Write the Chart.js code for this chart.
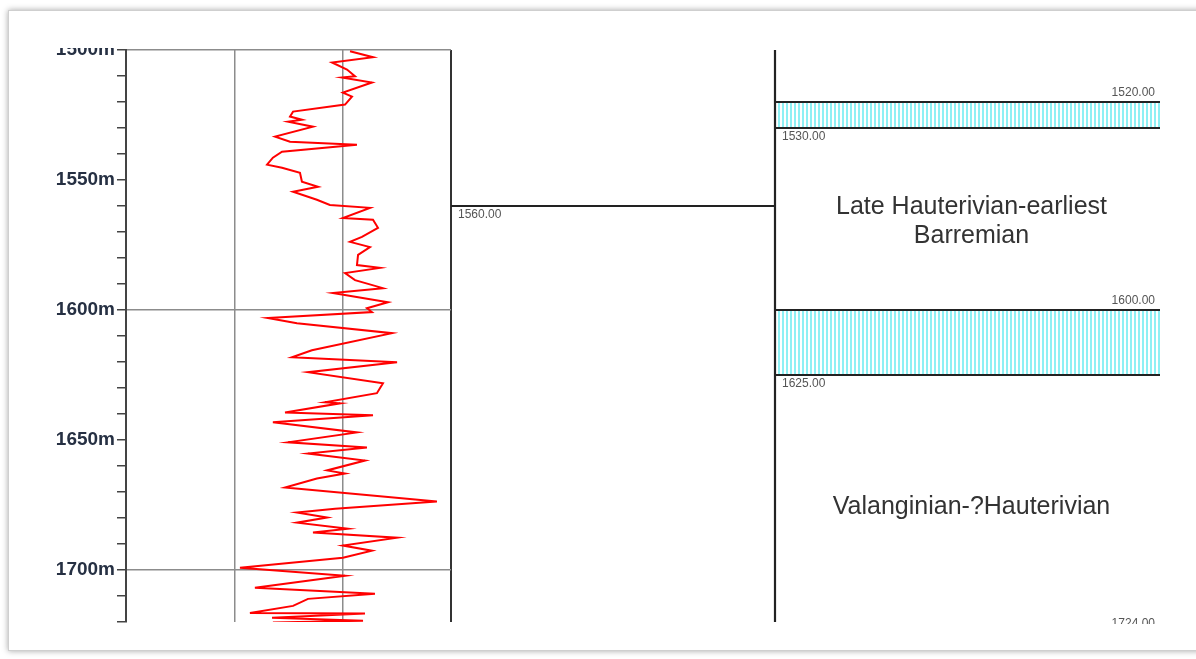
<!DOCTYPE html>
<html>
<head>
<meta charset="utf-8">
<script src="https://cdn.jsdelivr.net/npm/chart.js"></script>
<style>
  body { margin: 0; width: 1196px; height: 659px; overflow: hidden; background: #fff; font-family: "Liberation Sans", Arial, sans-serif; }
  #frame { position: absolute; left: 8px; top: 10px; width: 1200px; height: 639px; border: 1px solid #cfcfcf; box-shadow: 0 0 6px rgba(0,0,0,0.35); background: #fff; }
  #clip { position: absolute; left: 0; top: 48px; width: 1196px; height: 576px; overflow: hidden; }
  canvas { position: absolute; top: -48px; }
</style>
</head>
<body>
<div id="frame"></div>
<div id="clip">
  <canvas id="logChart" width="459" height="640" style="left:0px"></canvas>
  <canvas id="midChart" width="324" height="640" style="left:451px"></canvas>
  <canvas id="zoneChart" width="400" height="640" style="left:770px"></canvas>
</div>
<script>
// depth range and ticks
const depthMin = 1500;
const depthMax = 1720;
const depthStep = 10;
const depthLabelEvery = 50;

// log curve (depth m, value)
const logDepth = [1500.5, 1502.8, 1504.8, 1507.5, 1510.1, 1510.6, 1512.5, 1516.4, 1517.9, 1521.0,
  1523.7, 1525.6, 1526.8, 1527.6, 1529.5, 1533.3, 1535.3, 1536.4, 1539.1, 1541.4,
  1544.1, 1545.3, 1547.2, 1550.7, 1552.6, 1554.5, 1557.6, 1559.6, 1560.7, 1564.6,
  1565.3, 1568.4, 1571.9, 1573.8, 1575.8, 1578.8, 1582.7, 1583.8, 1585.8, 1588.5,
  1591.6, 1593.5, 1597.0, 1599.3, 1600.8, 1603.1, 1605.1, 1608.9, 1615.5, 1618.2,
  1620.1, 1623.9, 1628.2, 1632.0, 1635.5, 1635.9, 1639.4, 1640.5, 1643.2, 1647.1,
  1650.9, 1652.9, 1655.2, 1657.9, 1661.7, 1662.9, 1664.8, 1668.3, 1673.7, 1676.4,
  1677.9, 1679.8, 1681.8, 1684.1, 1685.6, 1687.6, 1690.6, 1692.6, 1695.3, 1699.1,
  1702.2, 1706.8, 1709.1, 1711.1, 1713.8, 1716.5, 1716.7, 1718.4, 1719.5, 1720.2];
const logValue = [103.4, 114.0, 95.1, 102.0, 105.7, 99.7, 113.5, 100.1, 104.3, 101.1,
  77.1, 75.7, 81.2, 74.8, 86.3, 68.8, 75.7, 106.6, 72.0, 67.8,
  65.1, 72.0, 80.3, 81.2, 88.6, 77.1, 88.1, 94.1, 112.6, 100.1,
  114.0, 116.3, 108.9, 103.4, 112.6, 107.1, 106.6, 117.2, 101.1, 105.7,
  118.6, 95.5, 120.9, 111.2, 113.5, 65.5, 78.9, 122.8, 85.8, 76.6,
  125.1, 84.0, 118.6, 115.8, 91.8, 98.8, 73.4, 114.0, 67.8, 106.6,
  74.8, 111.2, 84.0, 110.3, 92.8, 101.1, 88.1, 73.4, 143.5, 96.5,
  78.9, 92.8, 78.9, 102.5, 86.3, 125.1, 100.1, 113.5, 100.1, 52.6,
  101.1, 59.5, 114.9, 84.0, 77.1, 57.2, 110.3, 67.4, 109.4, 67.8];
const logMin = 0;
const logMax = 150;
const logGridStep = 50;

// middle track marker
const markerDepths = [1560];

// zone track
const boundaryDepths = [1520, 1530, 1600, 1625, 1724];
const hatchedZones = [[1520, 1530], [1600, 1625]];
const zoneNames = [["Late Hauterivian-earliest", "Barremian"], ["Valanginian-?Hauterivian"]];
const zoneRanges = [[1530, 1600], [1625, 1724]];

const labelFont = '12px "Liberation Sans", Arial, sans-serif';
const labelColor = '#555';

function depthAxis(display) {
  return { type: 'linear', reverse: true, min: depthMin, max: depthMax, display: display };
}

function baseOptions(padding) {
  return {
    responsive: false,
    animation: false,
    layout: { padding: padding },
    plugins: { legend: { display: false }, tooltip: { enabled: false } },
    events: []
  };
}

// text at depth boundaries, drawn from the y scale
const depthLabels = {
  id: 'depthLabels',
  afterDatasetsDraw(chart, args, opts) {
    const ctx = chart.ctx, area = chart.chartArea, y = chart.scales.y;
    ctx.save();
    ctx.font = labelFont;
    ctx.fillStyle = labelColor;
    (opts.items || []).forEach(it => {
      const py = y.getPixelForValue(it.depth);
      const txt = it.depth.toFixed(2);
      if (it.side === 'right') {
        ctx.textAlign = 'right'; ctx.textBaseline = 'bottom';
        ctx.fillText(txt, area.right - 5, py - 3);
      } else {
        ctx.textAlign = 'left'; ctx.textBaseline = 'top';
        ctx.fillText(txt, area.left + 7, py + 3);
      }
    });
    ctx.restore();
  }
};

const zoneText = {
  id: 'zoneText',
  afterDatasetsDraw(chart) {
    const ctx = chart.ctx, area = chart.chartArea, y = chart.scales.y;
    ctx.save();
    ctx.font = '25px "Liberation Sans", Arial, sans-serif';
    ctx.fillStyle = '#333';
    ctx.textAlign = 'center';
    ctx.textBaseline = 'middle';
    const cx = (area.left + area.right) / 2 + 4;
    zoneNames.forEach((lines, i) => {
      const mid = y.getPixelForValue((zoneRanges[i][0] + zoneRanges[i][1]) / 2);
      const lh = 29;
      lines.forEach((t, j) => {
        ctx.fillText(t, cx, mid + 3 + (j - (lines.length - 1) / 2) * lh);
      });
    });
    ctx.restore();
  }
};

// --- log track ---
new Chart(document.getElementById('logChart'), {
  type: 'scatter',
  data: {
    datasets: [{
      data: logDepth.map((d, i) => ({ x: logValue[i], y: d })),
      showLine: true,
      borderColor: '#ff0000',
      borderWidth: 2,
      pointRadius: 0,
      tension: 0
    }]
  },
  options: Object.assign(baseOptions({ top: 50, bottom: 18, left: 0, right: 8 }), {
    scales: {
      x: {
        type: 'linear', min: logMin, max: logMax,
        ticks: { display: false, stepSize: logGridStep },
        border: { display: false },
        grid: {
          drawTicks: false,
          color: c => c.tick.value === logMax ? '#333' : (c.tick.value === logMin ? 'rgba(0,0,0,0)' : '#8c8c8c'),
          lineWidth: c => c.tick.value === logMax ? 2 : 1.5
        },
        afterFit: s => { s.height = 0; }
      },
      y: {
        type: 'linear', reverse: true, min: depthMin, max: depthMax,
        ticks: {
          stepSize: depthStep,
          autoSkip: false,
          padding: 2,
          color: '#263043',
          font: { family: '"Liberation Sans", Arial, sans-serif', size: 19, weight: 'bold' },
          callback: v => (v % depthLabelEvery === 0 ? v + 'm' : '')
        },
        border: { color: '#444', width: 2 },
        grid: {
          tickLength: 9,
          tickColor: '#444',
          tickWidth: 1.5,
          color: c => (c.tick.value % 100 === 0 ? '#8c8c8c' : 'rgba(0,0,0,0)'),
          lineWidth: 1.5
        },
        afterFit: s => { s.width = 126; }
      }
    }
  })
});

// --- middle track ---
new Chart(document.getElementById('midChart'), {
  type: 'scatter',
  data: {
    datasets: markerDepths.map(d => ({
      data: [{ x: 0, y: d }, { x: 1, y: d }],
      showLine: true, borderColor: '#222', borderWidth: 2, pointRadius: 0
    }))
  },
  options: Object.assign(baseOptions({ top: 50, bottom: 18, left: 0, right: 0 }), {
    scales: { x: { type: 'linear', min: 0, max: 1, display: false }, y: depthAxis(false) },
    plugins: {
      legend: { display: false }, tooltip: { enabled: false },
      depthLabels: { items: markerDepths.map(d => ({ depth: d, side: 'left' })) }
    }
  }),
  plugins: [depthLabels]
});

// --- zone track ---
const hatchCanvas = document.createElement('canvas');
hatchCanvas.width = 4; hatchCanvas.height = 4;
const hctx = hatchCanvas.getContext('2d');
hctx.fillStyle = '#ffffff'; hctx.fillRect(0, 0, 4, 4);
hctx.fillStyle = '#8ef0f4'; hctx.fillRect(0, 0, 2, 4);
const hatch = document.createElement('canvas').getContext('2d').createPattern(hatchCanvas, 'repeat');

const zoneTops = hatchedZones.map(z => z[0]);
const zoneBases = hatchedZones.map(z => z[1]);
const zoneDatasets = boundaryDepths.map(d => ({
  data: [{ x: 0, y: d }, { x: 1, y: d }],
  showLine: true, borderColor: '#222', borderWidth: 2.2, pointRadius: 0,
  fill: zoneTops.includes(d) ? '+1' : false,
  backgroundColor: hatch,
  clip: 4
}));
// left border of the zone track
zoneDatasets.push({
  data: [{ x: 0, y: depthMin }, { x: 0, y: depthMax }],
  showLine: true, borderColor: '#222', borderWidth: 2.2, pointRadius: 0, fill: false, clip: 4
});

new Chart(document.getElementById('zoneChart'), {
  type: 'scatter',
  data: { datasets: zoneDatasets },
  options: Object.assign(baseOptions({ top: 50, bottom: 18, left: 5, right: 10 }), {
    scales: { x: { type: 'linear', min: 0, max: 1, display: false }, y: depthAxis(false) },
    plugins: {
      legend: { display: false }, tooltip: { enabled: false },
      filler: { drawTime: 'beforeDatasetsDraw' },
      depthLabels: {
        items: boundaryDepths.map(d => ({ depth: d, side: zoneBases.includes(d) ? 'left' : 'right' }))
      }
    }
  }),
  plugins: [depthLabels, zoneText]
});
</script>
</body>
</html>
